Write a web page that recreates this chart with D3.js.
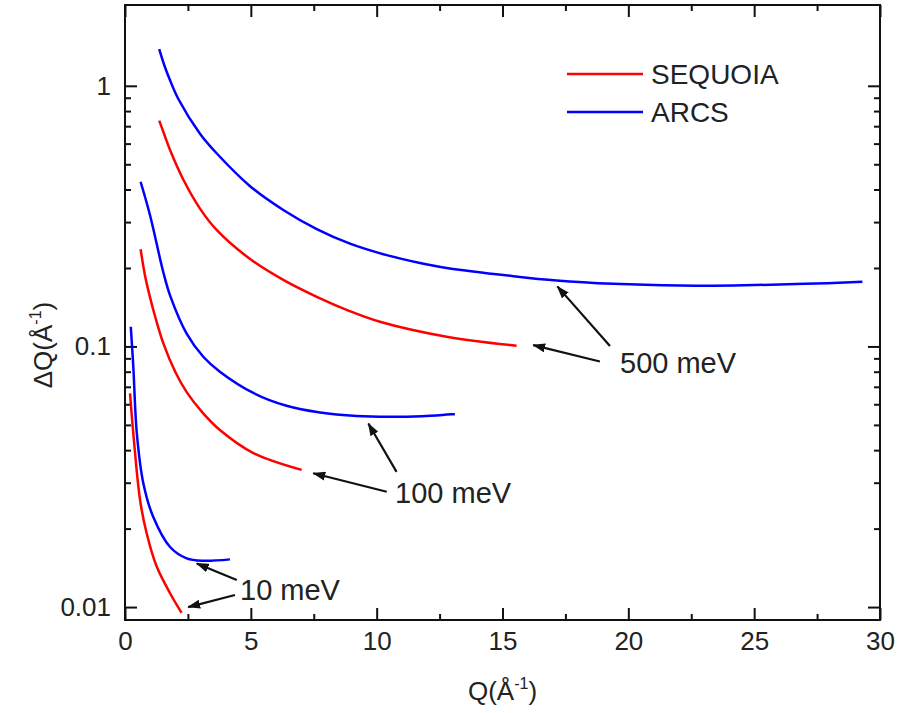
<!DOCTYPE html>
<html>
<head>
<meta charset="utf-8">
<script src="https://cdn.jsdelivr.net/npm/d3@7"></script>
<style>
  body { margin: 0; background: #fff; }
  text { font-family: Arial, "Liberation Sans", sans-serif; fill: #222; }
</style>
</head>
<body>
<script>
// Resolución en Q para SEQUOIA y ARCS a tres energías incidentes

const margin = {top: 5, right: 20, bottom: 93, left: 125};

const WIDTH = 900,
    HEIGHT = 713;

const width = WIDTH - margin.left - margin.right,
    height = HEIGHT - margin.top - margin.bottom;

// [Q, dQ]
const sequoia10 = [[0.20, 0.0661], [0.33, 0.0464], [0.60, 0.0257], [0.86, 0.0192], [1.26, 0.0143], [1.79, 0.0113], [2.25, 0.0095]];
const arcs10 = [[0.23, 0.119], [0.33, 0.0836], [0.47, 0.0464], [0.73, 0.0298], [1.12, 0.0222], [1.79, 0.0170], [2.45, 0.01538], [3.11, 0.01505], [4.17, 0.01524]];

const sequoia100 = [[0.62, 0.236], [0.80, 0.186], [0.99, 0.155], [1.20, 0.130], [1.52, 0.103], [2.00, 0.0798], [2.45, 0.0668], [3.10, 0.0555], [3.77, 0.0478], [5.10, 0.0390], [7.02, 0.0336]];
const arcs100 = [[0.62, 0.4285], [0.99, 0.320], [1.52, 0.193], [1.79, 0.157], [2.45, 0.112], [3.11, 0.0913], [3.77, 0.080], [5.10, 0.0663], [6.42, 0.0592], [7.75, 0.0558], [9.21, 0.0541], [10.5, 0.0537], [11.8, 0.0540], [13.11, 0.0550]];

const sequoia500 = [[1.36, 0.735], [1.60, 0.635], [1.79, 0.567], [2.32, 0.436], [2.98, 0.338], [3.64, 0.280], [4.97, 0.2165], [6.29, 0.180], [7.62, 0.155], [8.90, 0.137], [10.13, 0.1244], [12.78, 0.109], [15.56, 0.1006]];
const arcs500 = [[1.36, 1.384], [1.60, 1.17], [1.79, 1.05], [2.12, 0.89], [2.98, 0.655], [3.64, 0.551], [4.97, 0.412], [6.29, 0.334], [7.62, 0.282], [8.94, 0.248], [10.40, 0.224], [11.72, 0.209], [12.78, 0.200], [15.43, 0.186], [17.15, 0.179], [19.40, 0.1738], [22.05, 0.1712], [24.2, 0.1715], [27.0, 0.1738], [29.3, 0.177]];

const instruments = ['SEQUOIA', 'ARCS'];
const series = [
    {name: 'SEQUOIA', values: sequoia10},
    {name: 'ARCS', values: arcs10},
    {name: 'SEQUOIA', values: sequoia100},
    {name: 'ARCS', values: arcs100},
    {name: 'SEQUOIA', values: sequoia500},
    {name: 'ARCS', values: arcs500}
];

const xMajor = [0, 5, 10, 15, 20, 25, 30];
const xMinor = [2.5, 7.5, 12.5, 17.5, 22.5, 27.5];
const yMajor = [0.01, 0.1, 1];
const yTickLabels = ['0.01', '0.1', '1'];
const yMinor = [0.02, 0.03, 0.04, 0.05, 0.06, 0.07, 0.08, 0.09,
    0.2, 0.3, 0.4, 0.5, 0.6, 0.7, 0.8, 0.9];

// etiquetas de energía: texto y flechas [Q, dQ] desde -> hasta
const labels = [
    {text: '10 meV', at: [4.57, 0.01064], arrows: [[[4.44, 0.0127], [2.85, 0.0147]], [[4.37, 0.01112], [2.51, 0.0100]]]},
    {text: '100 meV', at: [10.73, 0.0251], arrows: [[[10.79, 0.0330], [9.67, 0.0506]], [[10.40, 0.0277], [7.48, 0.0326]]]},
    {text: '500 meV', at: [19.67, 0.0791], arrows: [[[19.27, 0.1004], [17.18, 0.170]], [[18.87, 0.0875], [16.22, 0.1012]]]}
];

const svg = d3.select('body')
    .append('svg')
        .attr('width', WIDTH)
        .attr('height', HEIGHT);

const g = svg.append('g')
        .attr('transform', `translate(${margin.left},${margin.top})`);

const xScale = d3.scaleLinear()
    .domain([0, 30])
    .range([0, width]);

const yScale = d3.scaleLog()
    .domain([0.00892, 2.042])
    .range([height, 0]);

const colorScale = d3.scaleOrdinal()
    .domain(instruments)
    .range(['#ff0000', '#0000ff']);

// ejes con marcas hacia adentro en los cuatro lados
const styleAxis = sel => {
    sel.select('.domain').remove();
    sel.selectAll('.tick line').attr('stroke', '#111').attr('stroke-width', 2);
    sel.selectAll('.tick text')
        .attr('font-size', 26)
        .attr('font-family', 'Arial, "Liberation Sans", sans-serif')
        .attr('fill', '#222');
};

g.append('g')
    .attr('class', 'axis axis--x')
    .attr('transform', `translate(0,${height})`)
    .call(d3.axisBottom(xScale).tickValues(xMajor).tickSize(-12).tickPadding(12).tickFormat(d3.format('d')))
    .call(styleAxis);

g.append('g')
    .attr('transform', `translate(0,${height})`)
    .call(d3.axisBottom(xScale).tickValues(xMinor).tickSize(-6).tickFormat(''))
    .call(styleAxis);

g.append('g')
    .call(d3.axisTop(xScale).tickValues(xMajor).tickSize(-12).tickFormat(''))
    .call(styleAxis);

g.append('g')
    .call(d3.axisTop(xScale).tickValues(xMinor).tickSize(-6).tickFormat(''))
    .call(styleAxis);

g.append('g')
    .attr('class', 'axis axis--y')
    .call(d3.axisLeft(yScale).tickValues(yMajor).tickSize(-12).tickPadding(14)
        .tickFormat((d, i) => yTickLabels[i]))
    .call(styleAxis);

g.append('g')
    .call(d3.axisLeft(yScale).tickValues(yMinor).tickSize(-6).tickFormat(''))
    .call(styleAxis);

g.append('g')
    .attr('transform', `translate(${width},0)`)
    .call(d3.axisRight(yScale).tickValues(yMajor).tickSize(-12).tickFormat(''))
    .call(styleAxis);

g.append('g')
    .attr('transform', `translate(${width},0)`)
    .call(d3.axisRight(yScale).tickValues(yMinor).tickSize(-6).tickFormat(''))
    .call(styleAxis);

// marco
g.append('rect')
    .attr('width', width)
    .attr('height', height)
    .attr('fill', 'none')
    .attr('stroke', '#111')
    .attr('stroke-width', 2);

// curvas
const line = d3.line()
    .x(d => xScale(d[0]))
    .y(d => yScale(d[1]))
    .curve(d3.curveCatmullRom.alpha(0.5));

g.selectAll('.serie')
    .data(series)
    .enter().append('path')
        .attr('class', 'serie')
        .attr('fill', 'none')
        .attr('stroke', d => colorScale(d.name))
        .attr('stroke-width', 2.5)
        .attr('d', d => line(d.values));

// flechas
svg.append('defs').append('marker')
    .attr('id', 'head')
    .attr('markerUnits', 'userSpaceOnUse')
    .attr('markerWidth', 13)
    .attr('markerHeight', 9)
    .attr('refX', 12)
    .attr('refY', 4.5)
    .attr('orient', 'auto')
    .append('path')
        .attr('d', 'M0,0 L13,4.5 L0,9 Z')
        .attr('fill', '#111');

const ann = g.selectAll('.energy')
    .data(labels)
    .enter().append('g')
        .attr('class', 'energy');

ann.selectAll('line')
    .data(d => d.arrows)
    .enter().append('line')
        .attr('x1', d => xScale(d[0][0]))
        .attr('y1', d => yScale(d[0][1]))
        .attr('x2', d => xScale(d[1][0]))
        .attr('y2', d => yScale(d[1][1]))
        .attr('stroke', '#111')
        .attr('stroke-width', 2.2)
        .attr('marker-end', 'url(#head)');

ann.append('text')
    .attr('x', d => xScale(d.at[0]))
    .attr('y', d => yScale(d.at[1]))
    .attr('font-size', 29)
    .text(d => d.text);

// leyenda
const legend = g.selectAll('.legend')
    .data(instruments)
    .enter().append('g')
        .attr('class', 'legend')
        .attr('transform', (d, i) => `translate(442,${69 + i * 38})`);

legend.append('line')
    .attr('x1', 0)
    .attr('x2', 76)
    .attr('stroke', colorScale)
    .attr('stroke-width', 2.5);

legend.append('text')
    .attr('x', 84)
    .attr('dy', '0.35em')
    .attr('font-size', 28)
    .text(d => d);

// títulos de ejes
const xTitle = svg.append('text')
    .attr('x', margin.left + width / 2)
    .attr('y', 700)
    .attr('text-anchor', 'middle')
    .attr('font-size', 26);
xTitle.append('tspan').text('Q(Å');
xTitle.append('tspan').attr('font-size', 16).attr('dy', -11).text('-1');
xTitle.append('tspan').attr('dy', 11).text(')');

const yTitle = svg.append('text')
    .attr('transform', 'translate(52,345) rotate(-90)')
    .attr('text-anchor', 'middle')
    .attr('font-size', 26);
yTitle.append('tspan').text('ΔQ(Å');
yTitle.append('tspan').attr('font-size', 16).attr('dy', -11).text('-1');
yTitle.append('tspan').attr('dy', 11).text(')');
</script>
</body>
</html>
